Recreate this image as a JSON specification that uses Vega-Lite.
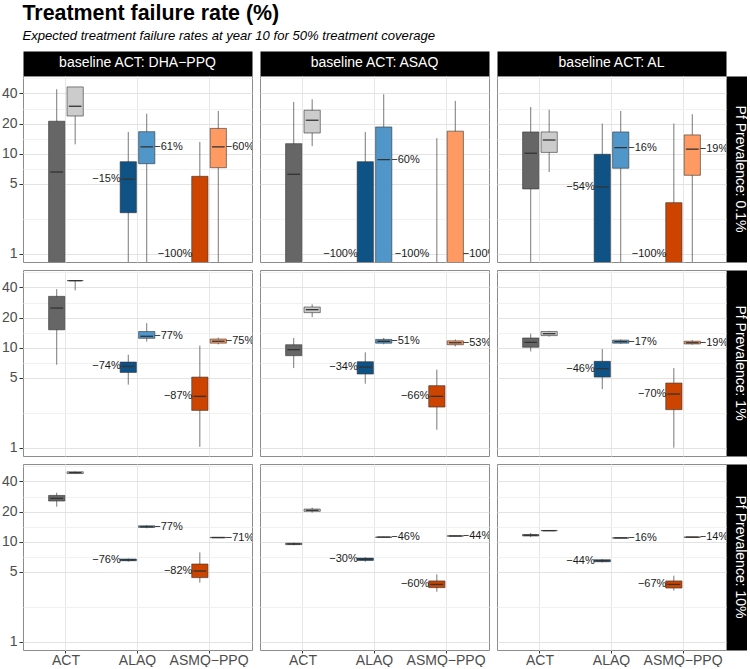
{
  "$schema": "https://vega.github.io/schema/vega-lite/v6.json",
  "padding": {"left": 1, "top": 3, "right": 0, "bottom": 0},
  "background": "white",
  "bounds": "flush",
  "title": {
    "text": "Treatment failure rate (%)",
    "subtitle": "Expected treatment failure rates at year 10 for 50% treatment coverage",
    "anchor": "start",
    "dx": 21,
    "font": "Liberation Sans",
    "fontSize": 21.4,
    "fontWeight": "bold",
    "color": "#000000",
    "subtitleFont": "Liberation Sans",
    "subtitleFontSize": 13.1,
    "subtitleFontStyle": "italic",
    "subtitleColor": "#000000",
    "subtitlePadding": 6,
    "offset": 12
  },
  "data": {"values": [
    {"col":"baseline ACT: DHA−PPQ","row":"Pf Prevalence: 0.1%","trt":"ACT","v":"a","f":"ACT-a","lo":0.1,"q1":0.1,"med":6.56,"q3":21.1,"hi":44.1},
    {"col":"baseline ACT: DHA−PPQ","row":"Pf Prevalence: 0.1%","trt":"ACT","v":"b","f":"ACT-b","lo":12.4,"q1":23.8,"med":29.8,"q3":46.5,"hi":46.5},
    {"col":"baseline ACT: DHA−PPQ","row":"Pf Prevalence: 0.1%","trt":"ALAQ","v":"a","f":"ALAQ-a","lo":0.1,"q1":2.57,"med":5.55,"q3":8.32,"hi":16.5,"lab":"−15%","ly":5.55},
    {"col":"baseline ACT: DHA−PPQ","row":"Pf Prevalence: 0.1%","trt":"ALAQ","v":"b","f":"ALAQ-b","lo":0.1,"q1":7.94,"med":11.7,"q3":16.6,"hi":25.1,"lab":"−61%","ly":11.7},
    {"col":"baseline ACT: DHA−PPQ","row":"Pf Prevalence: 0.1%","trt":"ASMQ−PPQ","v":"a","f":"ASMQ-a","lo":0.1,"q1":0.1,"med":0.1,"q3":5.94,"hi":13.1,"lab":"−100%","ly":1},
    {"col":"baseline ACT: DHA−PPQ","row":"Pf Prevalence: 0.1%","trt":"ASMQ−PPQ","v":"b","f":"ASMQ-b","lo":0.1,"q1":7.24,"med":11.7,"q3":17.9,"hi":26.7,"lab":"−60%","ly":11.7},

    {"col":"baseline ACT: ASAQ","row":"Pf Prevalence: 0.1%","trt":"ACT","v":"a","f":"ACT-a","lo":0.1,"q1":0.1,"med":6.22,"q3":12.6,"hi":32.9},
    {"col":"baseline ACT: ASAQ","row":"Pf Prevalence: 0.1%","trt":"ACT","v":"b","f":"ACT-b","lo":11.9,"q1":16.1,"med":21.6,"q3":27.2,"hi":35.0},
    {"col":"baseline ACT: ASAQ","row":"Pf Prevalence: 0.1%","trt":"ALAQ","v":"a","f":"ALAQ-a","lo":0.1,"q1":0.1,"med":0.1,"q3":8.32,"hi":16.5,"lab":"−100%","ly":1},
    {"col":"baseline ACT: ASAQ","row":"Pf Prevalence: 0.1%","trt":"ALAQ","v":"b","f":"ALAQ-b","lo":0.1,"q1":0.1,"med":8.71,"q3":18.5,"hi":39.3,"lab":"−60%","ly":8.71},
    {"col":"baseline ACT: ASAQ","row":"Pf Prevalence: 0.1%","trt":"ASMQ−PPQ","v":"a","f":"ASMQ-a","lo":0.1,"q1":0.1,"med":0.1,"q3":0.1,"hi":14.3,"lab":"−100%","ly":1},
    {"col":"baseline ACT: ASAQ","row":"Pf Prevalence: 0.1%","trt":"ASMQ−PPQ","v":"b","f":"ASMQ-b","lo":0.1,"q1":0.1,"med":0.1,"q3":16.8,"hi":33.7,"lab":"−100%","ly":1},

    {"col":"baseline ACT: AL","row":"Pf Prevalence: 0.1%","trt":"ACT","v":"a","f":"ACT-a","lo":0.1,"q1":4.44,"med":10.1,"q3":16.5,"hi":29.3},
    {"col":"baseline ACT: AL","row":"Pf Prevalence: 0.1%","trt":"ACT","v":"b","f":"ACT-b","lo":6.56,"q1":10.3,"med":13.7,"q3":16.5,"hi":27.5},
    {"col":"baseline ACT: AL","row":"Pf Prevalence: 0.1%","trt":"ALAQ","v":"a","f":"ALAQ-a","lo":0.1,"q1":0.1,"med":4.65,"q3":9.86,"hi":20.0,"lab":"−54%","ly":4.65},
    {"col":"baseline ACT: AL","row":"Pf Prevalence: 0.1%","trt":"ALAQ","v":"b","f":"ALAQ-b","lo":0.1,"q1":7.15,"med":11.5,"q3":16.5,"hi":26.7,"lab":"−16%","ly":11.5},
    {"col":"baseline ACT: AL","row":"Pf Prevalence: 0.1%","trt":"ASMQ−PPQ","v":"a","f":"ASMQ-a","lo":0.1,"q1":0.1,"med":0.1,"q3":3.24,"hi":20.0,"lab":"−100%","ly":1},
    {"col":"baseline ACT: AL","row":"Pf Prevalence: 0.1%","trt":"ASMQ−PPQ","v":"b","f":"ASMQ-b","lo":0.1,"q1":6.08,"med":11.1,"q3":15.4,"hi":24.8,"lab":"−19%","ly":11.1},

    {"col":"baseline ACT: DHA−PPQ","row":"Pf Prevalence: 1%","trt":"ACT","v":"a","f":"ACT-a","lo":6.76,"q1":15.1,"med":24.9,"q3":32.6,"hi":38.5},
    {"col":"baseline ACT: DHA−PPQ","row":"Pf Prevalence: 1%","trt":"ACT","v":"b","f":"ACT-b","lo":37.4,"q1":46.8,"med":46.8,"q3":46.8,"hi":46.8},
    {"col":"baseline ACT: DHA−PPQ","row":"Pf Prevalence: 1%","trt":"ALAQ","v":"a","f":"ALAQ-a","lo":4.27,"q1":5.66,"med":6.5,"q3":7.18,"hi":8.51,"lab":"−74%","ly":6.5},
    {"col":"baseline ACT: DHA−PPQ","row":"Pf Prevalence: 1%","trt":"ALAQ","v":"b","f":"ALAQ-b","lo":11.5,"q1":12.4,"med":13.0,"q3":14.5,"hi":17.6,"lab":"−77%","ly":13.0},
    {"col":"baseline ACT: DHA−PPQ","row":"Pf Prevalence: 1%","trt":"ASMQ−PPQ","v":"a","f":"ASMQ-a","lo":1.02,"q1":2.36,"med":3.26,"q3":5.08,"hi":10.5,"lab":"−87%","ly":3.26},
    {"col":"baseline ACT: DHA−PPQ","row":"Pf Prevalence: 1%","trt":"ASMQ−PPQ","v":"b","f":"ASMQ-b","lo":10.8,"q1":11.1,"med":11.6,"q3":12.2,"hi":12.6,"lab":"−75%","ly":11.6},

    {"col":"baseline ACT: ASAQ","row":"Pf Prevalence: 1%","trt":"ACT","v":"a","f":"ACT-a","lo":6.25,"q1":8.32,"med":9.55,"q3":10.7,"hi":12.5},
    {"col":"baseline ACT: ASAQ","row":"Pf Prevalence: 1%","trt":"ACT","v":"b","f":"ACT-b","lo":20.2,"q1":22.4,"med":24.0,"q3":25.5,"hi":27.1},
    {"col":"baseline ACT: ASAQ","row":"Pf Prevalence: 1%","trt":"ALAQ","v":"a","f":"ALAQ-a","lo":4.37,"q1":5.45,"med":6.4,"q3":7.24,"hi":8.98,"lab":"−34%","ly":6.4},
    {"col":"baseline ACT: ASAQ","row":"Pf Prevalence: 1%","trt":"ALAQ","v":"b","f":"ALAQ-b","lo":10.8,"q1":11.1,"med":11.6,"q3":12.1,"hi":12.5,"lab":"−51%","ly":11.6},
    {"col":"baseline ACT: ASAQ","row":"Pf Prevalence: 1%","trt":"ASMQ−PPQ","v":"a","f":"ASMQ-a","lo":1.51,"q1":2.55,"med":3.26,"q3":4.17,"hi":6.03,"lab":"−66%","ly":3.26},
    {"col":"baseline ACT: ASAQ","row":"Pf Prevalence: 1%","trt":"ASMQ−PPQ","v":"b","f":"ASMQ-b","lo":10.3,"q1":10.7,"med":11.2,"q3":11.7,"hi":12.1,"lab":"−53%","ly":11.2},

    {"col":"baseline ACT: AL","row":"Pf Prevalence: 1%","trt":"ACT","v":"a","f":"ACT-a","lo":9.18,"q1":10.1,"med":11.3,"q3":12.5,"hi":13.8},
    {"col":"baseline ACT: AL","row":"Pf Prevalence: 1%","trt":"ACT","v":"b","f":"ACT-b","lo":12.9,"q1":13.2,"med":13.8,"q3":14.5,"hi":14.7},
    {"col":"baseline ACT: AL","row":"Pf Prevalence: 1%","trt":"ALAQ","v":"a","f":"ALAQ-a","lo":3.85,"q1":5.08,"med":6.17,"q3":7.3,"hi":9.68,"lab":"−46%","ly":6.17},
    {"col":"baseline ACT: AL","row":"Pf Prevalence: 1%","trt":"ALAQ","v":"b","f":"ALAQ-b","lo":10.9,"q1":11.1,"med":11.5,"q3":11.9,"hi":12.1,"lab":"−17%","ly":11.5},
    {"col":"baseline ACT: AL","row":"Pf Prevalence: 1%","trt":"ASMQ−PPQ","v":"a","f":"ASMQ-a","lo":1.0,"q1":2.4,"med":3.44,"q3":4.43,"hi":6.25,"lab":"−70%","ly":3.44},
    {"col":"baseline ACT: AL","row":"Pf Prevalence: 1%","trt":"ASMQ−PPQ","v":"b","f":"ASMQ-b","lo":10.7,"q1":10.9,"med":11.2,"q3":11.6,"hi":11.9,"lab":"−19%","ly":11.2},

    {"col":"baseline ACT: DHA−PPQ","row":"Pf Prevalence: 10%","trt":"ACT","v":"a","f":"ACT-a","lo":22.4,"q1":25.5,"med":27.1,"q3":29.0,"hi":30.9},
    {"col":"baseline ACT: DHA−PPQ","row":"Pf Prevalence: 10%","trt":"ACT","v":"b","f":"ACT-b","lo":47.5,"q1":48.0,"med":49.0,"q3":50.0,"hi":50.5},
    {"col":"baseline ACT: DHA−PPQ","row":"Pf Prevalence: 10%","trt":"ALAQ","v":"a","f":"ALAQ-a","lo":6.3,"q1":6.45,"med":6.56,"q3":6.7,"hi":6.8,"lab":"−76%","ly":6.56},
    {"col":"baseline ACT: DHA−PPQ","row":"Pf Prevalence: 10%","trt":"ALAQ","v":"b","f":"ALAQ-b","lo":13.6,"q1":13.9,"med":14.1,"q3":14.4,"hi":14.7,"lab":"−77%","ly":14.1},
    {"col":"baseline ACT: DHA−PPQ","row":"Pf Prevalence: 10%","trt":"ASMQ−PPQ","v":"a","f":"ASMQ-a","lo":3.89,"q1":4.37,"med":5.09,"q3":5.98,"hi":7.82,"lab":"−82%","ly":5.09},
    {"col":"baseline ACT: DHA−PPQ","row":"Pf Prevalence: 10%","trt":"ASMQ−PPQ","v":"b","f":"ASMQ-b","lo":10.9,"q1":10.95,"med":11.0,"q3":11.05,"hi":11.1,"lab":"−71%","ly":11.0},

    {"col":"baseline ACT: ASAQ","row":"Pf Prevalence: 10%","trt":"ACT","v":"a","f":"ACT-a","lo":9.2,"q1":9.35,"med":9.49,"q3":9.65,"hi":9.8},
    {"col":"baseline ACT: ASAQ","row":"Pf Prevalence: 10%","trt":"ACT","v":"b","f":"ACT-b","lo":19.5,"q1":20.1,"med":20.6,"q3":21.2,"hi":21.9},
    {"col":"baseline ACT: ASAQ","row":"Pf Prevalence: 10%","trt":"ALAQ","v":"a","f":"ALAQ-a","lo":6.3,"q1":6.5,"med":6.65,"q3":6.85,"hi":7.0,"lab":"−30%","ly":6.65},
    {"col":"baseline ACT: ASAQ","row":"Pf Prevalence: 10%","trt":"ALAQ","v":"b","f":"ALAQ-b","lo":11.0,"q1":11.05,"med":11.1,"q3":11.15,"hi":11.2,"lab":"−46%","ly":11.1},
    {"col":"baseline ACT: ASAQ","row":"Pf Prevalence: 10%","trt":"ASMQ−PPQ","v":"a","f":"ASMQ-a","lo":3.16,"q1":3.47,"med":3.74,"q3":4.05,"hi":4.71,"lab":"−60%","ly":3.74},
    {"col":"baseline ACT: ASAQ","row":"Pf Prevalence: 10%","trt":"ASMQ−PPQ","v":"b","f":"ASMQ-b","lo":11.3,"q1":11.35,"med":11.4,"q3":11.45,"hi":11.5,"lab":"−44%","ly":11.4},

    {"col":"baseline ACT: AL","row":"Pf Prevalence: 10%","trt":"ACT","v":"a","f":"ACT-a","lo":11.1,"q1":11.4,"med":11.6,"q3":11.8,"hi":12.2},
    {"col":"baseline ACT: AL","row":"Pf Prevalence: 10%","trt":"ACT","v":"b","f":"ACT-b","lo":12.8,"q1":12.85,"med":12.9,"q3":12.95,"hi":13.0},
    {"col":"baseline ACT: AL","row":"Pf Prevalence: 10%","trt":"ALAQ","v":"a","f":"ALAQ-a","lo":6.2,"q1":6.3,"med":6.46,"q3":6.6,"hi":6.7,"lab":"−44%","ly":6.46},
    {"col":"baseline ACT: AL","row":"Pf Prevalence: 10%","trt":"ALAQ","v":"b","f":"ALAQ-b","lo":10.8,"q1":10.85,"med":10.9,"q3":10.95,"hi":11.0,"lab":"−16%","ly":10.9},
    {"col":"baseline ACT: AL","row":"Pf Prevalence: 10%","trt":"ASMQ−PPQ","v":"a","f":"ASMQ-a","lo":3.24,"q1":3.44,"med":3.74,"q3":4.05,"hi":4.57,"lab":"−67%","ly":3.74},
    {"col":"baseline ACT: AL","row":"Pf Prevalence: 10%","trt":"ASMQ−PPQ","v":"b","f":"ASMQ-b","lo":11.0,"q1":11.05,"med":11.1,"q3":11.15,"hi":11.2,"lab":"−14%","ly":11.1}
  ]},
  "facet": {
    "column": {
      "field": "col", "type": "nominal",
      "sort": ["baseline ACT: DHA−PPQ", "baseline ACT: ASAQ", "baseline ACT: AL"],
      "title": null,
      "header": {"labelOrient": "top", "labelColor": "#ffffff", "labelFont": "Liberation Sans", "labelFontSize": 14, "labelPadding": -6}
    },
    "row": {
      "field": "row", "type": "nominal",
      "sort": ["Pf Prevalence: 0.1%", "Pf Prevalence: 1%", "Pf Prevalence: 10%"],
      "title": null,
      "header": {"labelOrient": "right", "labelAngle": 90, "labelColor": "#ffffff", "labelFont": "Liberation Sans", "labelFontSize": 14, "labelPadding": -6, "labelAlign": "center"}
    }
  },
  "spacing": {"row": 8, "column": 8},
  "spec": {
    "width": 229,
    "height": 186,
    "encoding": {
      "x": {
        "field": "trt", "type": "nominal",
        "sort": ["ACT", "ALAQ", "ASMQ−PPQ"],
        "scale": {"paddingInner": 0, "paddingOuter": 0.1},
        "axis": null
      },
      "xOffset": {
        "field": "v", "type": "nominal",
        "scale": {"paddingInner": 0.12, "paddingOuter": 1.534}
      }
    },
    "layer": [
      {
        "mark": {"type": "rule", "color": "#555555", "strokeWidth": 0.8, "clip": true},
        "encoding": {
          "x": {
            "field": "trt", "type": "nominal",
            "sort": ["ACT", "ALAQ", "ASMQ−PPQ"],
            "scale": {"paddingInner": 0, "paddingOuter": 0.1},
            "axis": {
              "orient": "bottom", "title": null, "bandPosition": 0.5, "labelAngle": 0,
              "grid": true, "gridColor": "#e6e6e6", "gridWidth": 1,
              "domain": false, "ticks": true, "tickSize": 3, "tickColor": "#333333",
              "labelColor": "#4d4d4d", "labelFont": "Liberation Sans", "labelFontSize": 14, "labelPadding": 0
            }
          },
          "y": {
            "field": "lo", "type": "quantitative",
            "scale": {"type": "log", "domain": [0.826, 59.8], "nice": false, "zero": false},
            "axis": {
              "orient": "left", "title": null,
              "values": [1, 2.236, 5, 7.071, 10, 14.142, 20, 28.284, 40, 56.569],
              "labelExpr": "indexof([1,5,10,20,40], datum.value) >= 0 ? datum.value + '' : ''",
              "grid": true,
              "gridColor": {"condition": {"test": "indexof([1,5,10,20,40], datum.value) >= 0", "value": "#e3e3e3"}, "value": "#f1f1f1"},
              "gridWidth": 1,
              "domain": false,
              "tickSize": 4,
              "tickColor": {"condition": {"test": "indexof([1,5,10,20,40], datum.value) >= 0", "value": "#333333"}, "value": "transparent"},
              "labelColor": "#4d4d4d", "labelFont": "Liberation Sans", "labelFontSize": 14, "labelPadding": 2
            }
          },
          "y2": {"field": "hi"}
        }
      },
      {
        "mark": {"type": "bar", "stroke": "#333333", "strokeWidth": 0.6, "clip": true},
        "encoding": {
          "y": {"field": "q1", "type": "quantitative", "axis": null},
          "y2": {"field": "q3"},
          "fill": {
            "field": "f", "type": "nominal", "legend": null,
            "scale": {
              "domain": ["ACT-a", "ACT-b", "ALAQ-a", "ALAQ-b", "ASMQ-a", "ASMQ-b"],
              "range": ["#666666", "#cccccc", "#0e5286", "#5096c9", "#cc4400", "#ff9a62"]
            }
          }
        }
      },
      {
        "mark": {"type": "tick", "orient": "horizontal", "size": 12.7, "thickness": 1.3, "color": "#333333", "opacity": 1, "clip": true},
        "encoding": {
          "y": {"field": "med", "type": "quantitative", "axis": null}
        }
      },
      {
        "transform": [{"filter": "datum.v == 'a' && isValid(datum.lab)"}],
        "mark": {"type": "text", "align": "right", "baseline": "middle", "dx": -7.5, "font": "Liberation Sans", "fontSize": 11, "color": "#1a1a1a", "clip": true},
        "encoding": {
          "y": {"field": "ly", "type": "quantitative", "axis": null},
          "text": {"field": "lab"}
        }
      },
      {
        "transform": [{"filter": "datum.v == 'b' && isValid(datum.lab)"}],
        "mark": {"type": "text", "align": "left", "baseline": "middle", "dx": 7.5, "font": "Liberation Sans", "fontSize": 11, "color": "#1a1a1a", "clip": true},
        "encoding": {
          "x": {
            "field": "trt", "type": "nominal",
            "sort": ["ACT", "ALAQ", "ASMQ−PPQ"],
            "scale": {"paddingInner": 0, "paddingOuter": 0.1},
            "axis": {"orient": "top", "title": null, "labels": false, "ticks": false, "grid": false, "domain": true, "domainColor": "#000000", "domainWidth": 25, "offset": 12.5}
          },
          "y": {
            "field": "ly", "type": "quantitative",
            "axis": {"orient": "right", "title": null, "labels": false, "ticks": false, "grid": false, "domain": true, "domainColor": "#000000", "domainWidth": 25, "offset": 12.5}
          },
          "text": {"field": "lab"}
        }
      }
    ],
    "resolve": {"axis": {"x": "independent", "y": "independent"}}
  },
  "config": {
    "font": "Liberation Sans",
    "view": {"stroke": "#8c8c8c", "strokeWidth": 1},
    "axis": {"labelFont": "Liberation Sans"}
  }
}
